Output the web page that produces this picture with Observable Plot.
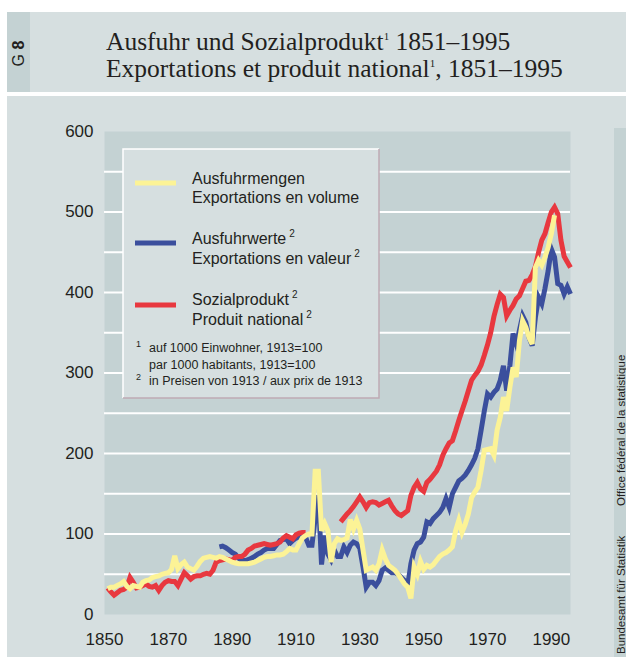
<!DOCTYPE html>
<html>
<head>
<meta charset="utf-8">
<script src="https://cdn.jsdelivr.net/npm/d3@7"></script>
<script src="https://cdn.jsdelivr.net/npm/@observablehq/plot@0.6"></script>
<style>
  html, body { margin: 0; padding: 0; background: #ffffff; }
  #page { position: relative; width: 626px; height: 657px; overflow: hidden; background: #ffffff; }
  #page > svg { position: absolute; left: 0; top: 0; }
</style>
</head>
<body>
<div id="page"></div>
<script>
// ---------- data ----------
const titleLines = ["Ausfuhr und Sozialprodukt", "Exportations et produit national"];
const titleYears = "1851–1995";

const xTicks = [1850, 1870, 1890, 1910, 1930, 1950, 1970, 1990];
const yTicks = [0, 100, 200, 300, 400, 500, 600];
const gridValues = [50, 100, 150, 200, 250, 300, 350, 400, 450, 500, 550];

// Ausfuhrmengen / Exportations en volume (yellow)
const volume = [
  [1851,32],[1852,34],[1853,34],[1854,36],[1855,38],[1856,41],[1857,35],[1858,32],[1859,36],[1860,35],
  [1861,34],[1862,40],[1863,42],[1864,43],[1865,46],[1866,47],[1867,48],[1868,50],[1869,51],[1870,52],
  [1871,56],[1872,73],[1873,57],[1874,62],[1875,65],[1876,59],[1877,57],[1878,55],[1879,60],[1880,66],
  [1881,70],[1882,71],[1883,72],[1884,71],[1885,70],[1886,72],[1887,71],[1888,69],[1889,67],[1890,65],
  [1891,64],[1892,63],[1893,63],[1894,63],[1895,63],[1896,64],[1897,65],[1898,67],[1899,69],[1900,71],
  [1901,72],[1902,72],[1903,73],[1904,74],[1905,74],[1906,75],[1907,78],[1908,82],[1909,80],[1910,80],
  [1911,88],[1912,95],[1913,98],[1914,100],[1915,100],[1916,178],[1917,178],[1918,104],[1919,113],[1920,104],
  [1921,65],[1922,88],[1923,94],[1924,92],[1925,93],[1926,95],[1927,118],[1928,106],[1929,117],[1930,106],
  [1931,80],[1932,55],[1933,57],[1934,59],[1935,55],[1936,63],[1937,80],[1938,69],[1939,61],[1940,58],
  [1941,55],[1942,50],[1943,44],[1944,38],[1945,34],[1946,20],[1947,59],[1948,50],[1949,66],[1950,56],
  [1951,61],[1952,59],[1953,62],[1954,67],[1955,72],[1956,75],[1957,77],[1958,80],[1959,84],[1960,104],
  [1961,117],[1962,102],[1963,112],[1964,125],[1965,145],[1966,152],[1967,158],[1968,179],[1969,204],[1970,205],
  [1971,206],[1972,198],[1973,229],[1974,245],[1975,270],[1976,253],[1977,282],[1978,307],[1979,295],[1980,340],
  [1981,365],[1982,357],[1983,344],[1984,336],[1985,431],[1986,440],[1987,434],[1988,444],[1989,456],[1990,473],
  [1991,496]
];

// Ausfuhrwerte / Exportations en valeur (blue)
const value = [
  [1886,84],[1887,85],[1888,83],[1889,80],[1890,77],[1891,75],[1892,70],[1893,67],[1894,67],[1895,68],
  [1896,70],[1897,72],[1898,75],[1899,77],[1900,80],[1901,82],[1902,82],[1903,82],[1904,87],[1905,92],
  [1906,93],[1907,94],[1908,88],[1909,92],[1910,95],[1911,96],[1912,98],[1913,96],[1914,86],[1915,86],
  [1916,120],[1917,148],[1918,62],[1919,98],[1920,75],[1921,68],[1922,80],[1923,72],[1924,72],[1925,84],
  [1926,77],[1927,86],[1928,90],[1929,88],[1930,82],[1931,59],[1932,34],[1933,40],[1934,40],[1935,36],
  [1936,42],[1937,55],[1938,58],[1939,55],[1940,52],[1941,52],[1942,50],[1943,46],[1944,42],[1945,36],
  [1946,63],[1947,80],[1948,88],[1949,90],[1950,96],[1951,115],[1952,113],[1953,119],[1954,123],[1955,127],
  [1956,133],[1957,144],[1958,133],[1959,150],[1960,158],[1961,166],[1962,169],[1963,173],[1964,179],[1965,186],
  [1966,194],[1967,206],[1968,229],[1969,253],[1970,274],[1971,270],[1972,276],[1973,280],[1974,291],[1975,309],
  [1976,278],[1977,309],[1978,349],[1979,336],[1980,353],[1981,371],[1982,363],[1983,344],[1984,334],[1985,369],
  [1986,394],[1987,386],[1988,405],[1989,427],[1990,454],[1991,444],[1992,411],[1993,409],[1994,398],[1995,407],
  [1996,398]
];

// Sozialprodukt / Produit national (red), no data 1914-1923
const national = [
  [1851,33],[1852,28],[1853,24],[1854,27],[1855,30],[1856,31],[1857,34],[1858,46],[1859,40],[1860,33],
  [1861,34],[1862,36],[1863,38],[1864,35],[1865,34],[1866,36],[1867,30],[1868,36],[1869,40],[1870,42],
  [1871,41],[1872,41],[1873,36],[1874,44],[1875,52],[1876,48],[1877,44],[1878,47],[1879,48],[1880,48],
  [1881,50],[1882,51],[1883,50],[1884,55],[1885,65],[1886,67],[1887,68],[1888,69],[1889,68],[1890,67],
  [1891,71],[1892,72],[1893,72],[1894,75],[1895,80],[1896,82],[1897,85],[1898,86],[1899,87],[1900,88],
  [1901,87],[1902,86],[1903,87],[1904,88],[1905,90],[1906,95],[1907,98],[1908,96],[1909,94],[1910,99],
  [1911,101],[1912,102],[1913,102],[1918,null],
  [1924,115],[1925,120],[1926,125],[1927,129],[1928,134],[1929,140],[1930,146],
  [1931,140],[1932,133],[1933,139],[1934,140],[1935,139],[1936,136],[1937,138],[1938,140],[1939,142],[1940,135],
  [1941,129],[1942,125],[1943,123],[1944,126],[1945,129],[1946,148],[1947,158],[1948,164],[1949,156],[1950,153],
  [1951,164],[1952,168],[1953,173],[1954,178],[1955,186],[1956,198],[1957,206],[1958,213],[1959,216],[1960,228],
  [1961,241],[1962,253],[1963,265],[1964,278],[1965,291],[1966,297],[1967,302],[1968,310],[1969,322],[1970,335],
  [1971,350],[1972,370],[1973,385],[1974,398],[1975,394],[1976,371],[1977,378],[1978,384],[1979,392],[1980,396],
  [1981,405],[1982,414],[1983,415],[1984,422],[1985,432],[1986,450],[1987,465],[1988,473],[1989,487],[1990,500],
  [1991,506],[1992,498],[1993,465],[1994,445],[1995,438],[1996,431]
];

const legendItems = [
  {de: "Ausfuhrmengen", fr: "Exportations en volume", sup: ""},
  {de: "Ausfuhrwerte", fr: "Exportations en valeur", sup: "2"},
  {de: "Sozialprodukt", fr: "Produit national", sup: "2"}
];
const footnotes = [
  {mark: "1", text: "auf 1000 Einwohner, 1913=100"},
  {mark: "", text: "par 1000 habitants, 1913=100"},
  {mark: "2", text: "in Preisen von 1913 / aux prix de 1913"}
];
const sourceText = ["Bundesamt für Statistik", "Office fédéral de la statistique"];

// ---------- styling ----------
const YELLOW = "#fcf396", BLUE = "#3b4f9d", RED = "#e8383f";
const PAGE_BG = "#d6dfe0", PLOT_BG = "#c4d2d3", INK = "#231f20";
const seriesColors = [YELLOW, BLUE, RED];

function hasFont(name) {
  const c = document.createElement("canvas").getContext("2d");
  const s = "abcdefghijklmnopqrstuvwxyzABCDEFGHIJ0123456789";
  c.font = "40px monospace"; const w1 = c.measureText(s).width;
  c.font = `40px "${name}", monospace`; const w2 = c.measureText(s).width;
  return Math.abs(w1 - w2) > 0.5;
}
const NARROW = hasFont("Liberation Sans Narrow");
const SANS = NARROW ? "'Liberation Sans Narrow', 'Liberation Sans', Arial, sans-serif" : "'Liberation Sans', Arial, sans-serif";
const SERIF = "'Liberation Serif', 'DejaVu Serif', serif";
const axisSize = NARROW ? 20 : 17;
const legSize = NARROW ? 19 : 16;
const fnSize = NARROW ? 14.5 : 12.5;

const page = document.getElementById("page");
const NS = "http://www.w3.org/2000/svg";
function el(tag, attrs, parent, text) {
  const e = document.createElementNS(NS, tag);
  for (const k in attrs) e.setAttribute(k, attrs[k]);
  if (text != null) e.textContent = text;
  if (parent) parent.appendChild(e);
  return e;
}

// ---------- background / header layer ----------
const bg = el("svg", {width: 626, height: 657, viewBox: "0 0 626 657"}, page);
el("rect", {x: 0, y: 0, width: 626, height: 657, fill: "#ffffff"}, bg);
el("rect", {x: 7, y: 12, width: 619, height: 80, fill: PAGE_BG}, bg);
el("rect", {x: 7, y: 12, width: 23, height: 80, fill: PLOT_BG}, bg);
el("rect", {x: 7, y: 96, width: 619, height: 561, fill: PAGE_BG}, bg);
el("rect", {x: 614, y: 128, width: 12, height: 529, fill: PLOT_BG}, bg);

const g8 = el("text", {transform: "translate(24,53.5) rotate(-90)", "text-anchor": "middle",
  "font-family": SANS, "font-size": 16, fill: INK}, bg);
el("tspan", {}, g8, "G ");
el("tspan", {"font-weight": "bold"}, g8, "8");

titleLines.forEach((t, i) => {
  const tx = el("text", {x: 106, y: 50 + i * 27, "font-family": SERIF, "font-size": 25.5, fill: INK}, bg);
  el("tspan", {}, tx, t);
  el("tspan", {dy: -10, "font-size": 11}, tx, "1");
  el("tspan", {dy: 10}, tx, (i === 0 ? " " : ", ") + titleYears);
});

el("text", {transform: "translate(624.5,654) rotate(-90)", "font-family": SANS, "font-size": 11.5, fill: INK}, bg, sourceText[0]);
el("text", {transform: "translate(624.5,506) rotate(-90)", "font-family": SANS, "font-size": 11.5, fill: INK}, bg, sourceText[1]);

// ---------- chart ----------
const rows = (pairs) => pairs.map(([year, v]) => ({year, v}));
const lineOpts = (color) => ({x: "year", y: "v", stroke: color, strokeWidth: 5,
  strokeLinejoin: "miter", strokeMiterlimit: 4, strokeLinecap: "butt"});

const chart = Plot.plot({
  width: 626, height: 657,
  marginLeft: 104, marginRight: 56, marginTop: 131, marginBottom: 43,
  style: {background: "none", fontFamily: SANS, fontSize: axisSize + "px", color: INK, overflow: "visible"},
  x: {domain: [1850, 1996], label: null},
  y: {domain: [0, 600], label: null},
  marks: [
    Plot.frame({fill: PLOT_BG, stroke: "none"}),
    Plot.ruleY(gridValues, {stroke: "#ffffff", strokeWidth: 2}),
    Plot.axisY(yTicks, {tickSize: 0, tickPadding: 11, fontSize: axisSize, tickFormat: d => String(d), label: null, fill: INK}),
    Plot.axisX(xTicks, {tickSize: 0, tickPadding: 18, fontSize: axisSize, tickFormat: d => String(d), label: null, fill: INK}),
    Plot.line(rows(value), lineOpts(BLUE)),
    Plot.line(rows(national), lineOpts(RED)),
    Plot.line(rows(volume), lineOpts(YELLOW))
  ]
});
page.appendChild(chart);

// ---------- legend ----------
const lg = el("svg", {width: 626, height: 657, viewBox: "0 0 626 657"}, page);
lg.style.pointerEvents = "none";
const bx = 123, by = 149, bw = 256, bh = 249;
el("rect", {x: bx, y: by, width: bw, height: bh, fill: PAGE_BG}, lg);
el("path", {d: `M${bx},${by + bh}V${by}H${bx + bw}`, stroke: "#ffffff", "stroke-width": 1.5, fill: "none"}, lg);
el("path", {d: `M${bx + bw},${by}V${by + bh}H${bx}`, stroke: "#bfaab4", "stroke-width": 1.5, fill: "none"}, lg);

const swatchY = [183, 243, 305];
const textY = [[183.5, 203], [244, 263.5], [305, 325]];
legendItems.forEach((it, i) => {
  el("rect", {x: 135, y: swatchY[i] - 2.5, width: 41, height: 5, fill: seriesColors[i]}, lg);
  [it.de, it.fr].forEach((t, j) => {
    const tx = el("text", {x: 192, y: textY[i][j], "font-family": SANS, "font-size": legSize, fill: INK}, lg);
    el("tspan", {}, tx, t);
    if (it.sup) el("tspan", {dx: 3, dy: -7, "font-size": 10}, tx, it.sup);
  });
});
const fnY = [352, 369, 385];
footnotes.forEach((f, i) => {
  if (f.mark) el("text", {x: 136, y: fnY[i] - 5, "font-family": SANS, "font-size": 9, fill: INK}, lg, f.mark);
  el("text", {x: 149, y: fnY[i], "font-family": SANS, "font-size": fnSize, fill: INK}, lg, f.text);
});
</script>
</body>
</html>
